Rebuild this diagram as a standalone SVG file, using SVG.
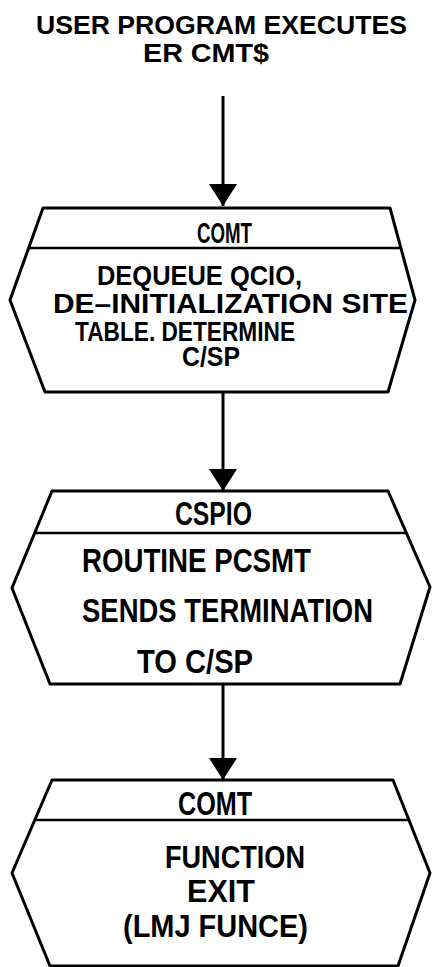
<svg xmlns="http://www.w3.org/2000/svg" width="433" height="967" viewBox="0 0 433 967">
<style>
.t{font-family:"Liberation Sans",Arial,sans-serif;font-weight:bold;fill:#000;}
.s{fill:#fff;stroke:#000;stroke-width:3;stroke-linejoin:round;}
.d{stroke:#000;stroke-width:2.5;}
.c{stroke:#000;stroke-width:3;fill:none;}
</style>
<defs>
<marker id="ah" viewBox="0 0 22 28" refX="22" refY="14" markerWidth="22" markerHeight="28" markerUnits="userSpaceOnUse" orient="auto">
<path d="M0,0 L22,14 L0,28 z" fill="#000"/>
</marker>
</defs>
<rect width="433" height="967" fill="#fff"/>
<g id="start">
<text class="t" x="36" y="34" font-size="26" textLength="371" lengthAdjust="spacingAndGlyphs">USER PROGRAM EXECUTES</text>
<text class="t" x="143" y="62" font-size="26" textLength="126" lengthAdjust="spacingAndGlyphs">ER CMT$</text>
</g>
<g id="connectors">
<line class="c" x1="223" y1="96" x2="223" y2="206" marker-end="url(#ah)"/>
<line class="c" x1="223" y1="392" x2="223" y2="491" marker-end="url(#ah)"/>
<line class="c" x1="223" y1="684" x2="223" y2="780" marker-end="url(#ah)"/>
</g>
<g id="box1">
<polygon class="s" points="43,208 390,208 415,300 388,392 45,392 10,300"/>
<line class="d" x1="28.6" y1="248" x2="400.9" y2="248"/>
<text class="t" x="197" y="243" font-size="29" textLength="55" lengthAdjust="spacingAndGlyphs">COMT</text>
<text class="t" x="97" y="285" font-size="28" textLength="205" lengthAdjust="spacingAndGlyphs">DEQUEUE QCIO,</text>
<text class="t" x="53" y="313" font-size="28" textLength="355" lengthAdjust="spacingAndGlyphs">DE–INITIALIZATION SITE</text>
<text class="t" x="75" y="341" font-size="28" textLength="220" lengthAdjust="spacingAndGlyphs">TABLE. DETERMINE</text>
<text class="t" x="182" y="366" font-size="28" textLength="58" lengthAdjust="spacingAndGlyphs">C/SP</text>
</g>
<g id="box2">
<polygon class="s" points="52,491 388,491 430,587 400,684 50,684 12,588"/>
<line class="d" x1="34.7" y1="533" x2="406" y2="533"/>
<text class="t" x="175" y="525" font-size="33" textLength="77" lengthAdjust="spacingAndGlyphs">CSPIO</text>
<text class="t" x="82" y="572" font-size="33" textLength="229" lengthAdjust="spacingAndGlyphs">ROUTINE PCSMT</text>
<text class="t" x="82" y="622" font-size="33" textLength="291" lengthAdjust="spacingAndGlyphs">SENDS TERMINATION</text>
<text class="t" x="137" y="673" font-size="33" textLength="116" lengthAdjust="spacingAndGlyphs">TO C/SP</text>
</g>
<g id="box3">
<polygon class="s" points="52,780 393,780 430,873 398,966 50,966 12,873"/>
<line class="d" x1="34.8" y1="820" x2="408.9" y2="820"/>
<text class="t" x="178" y="815" font-size="33" textLength="74" lengthAdjust="spacingAndGlyphs">COMT</text>
<text class="t" x="165" y="868" font-size="32" textLength="140" lengthAdjust="spacingAndGlyphs">FUNCTION</text>
<text class="t" x="187" y="902" font-size="32" textLength="68" lengthAdjust="spacingAndGlyphs">EXIT</text>
<text class="t" x="123" y="937" font-size="31" textLength="185" lengthAdjust="spacingAndGlyphs">(LMJ FUNCE)</text>
</g>
</svg>
